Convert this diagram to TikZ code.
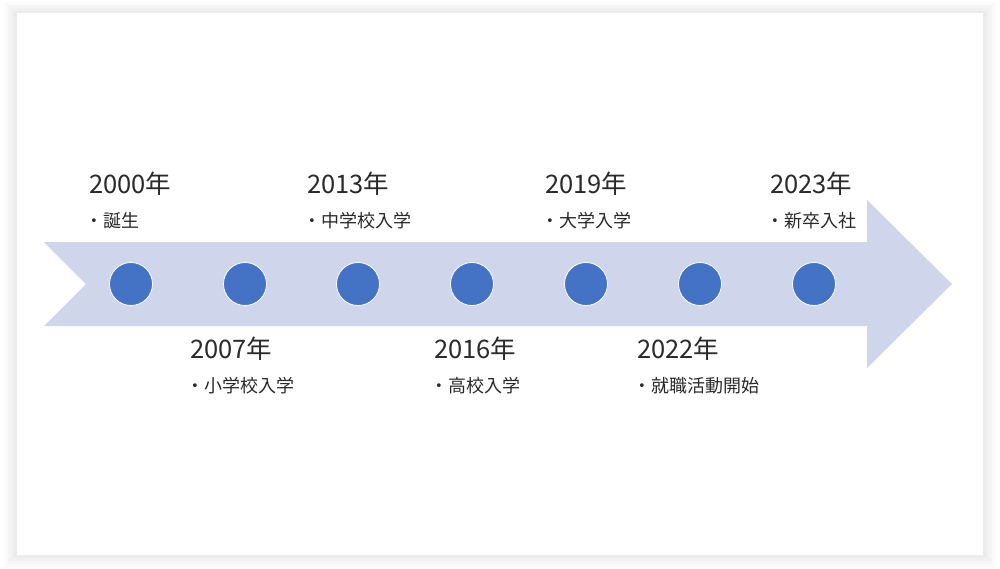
\documentclass[tikz,border=0pt]{standalone}
\usepackage{fontspec}
\setmainfont{Noto Sans CJK JP}
\newfontfamily\bulfont{DejaVu Sans}
\definecolor{arrowfill}{HTML}{CFD5EA}
\definecolor{dotfill}{HTML}{4472C4}
\definecolor{txt}{HTML}{2A2A2A}
\definecolor{shadowA}{HTML}{FAFAFA}
\definecolor{shadowB}{HTML}{F5F5F5}
\definecolor{shadowC}{HTML}{F0F0F0}
\definecolor{shadowD}{HTML}{EBEBEB}
\tikzset{
  dot/.style={circle, fill=dotfill, draw=white, line width=0.8pt, minimum size=43pt, inner sep=0pt},
  year/.style={anchor=base west, inner sep=0pt, font=\fontsize{25.5}{25.5}\selectfont, text=txt},
  item/.style={anchor=base west, inner sep=0pt, font=\fontsize{18}{18}\selectfont, text=txt},
}
\newcommand{\bul}{{\bulfont\fontsize{13}{13}\selectfont\raisebox{1.2pt}{•}}\hspace{6pt}}
\begin{document}
\begin{tikzpicture}[x=1pt,y=-1pt]
\useasboundingbox (0,0) rectangle (1000,568);
\fill[white] (0,0) rectangle (1000,568);
% shadow
\fill[shadowA] (5,2) rectangle (995,567);
\fill[shadowB] (8,5) rectangle (992,564);
\fill[shadowC] (11,8) rectangle (989,561);
\fill[shadowD] (14,11) rectangle (986,558);
\fill[white] (17,13) rectangle (983,555);
% arrow
\fill[arrowfill] (44,242) -- (867,242) -- (867,200) -- (952,284) -- (867,368) -- (867,326) -- (44,326) -- (86,284) -- cycle;
% dots
\node[dot] (d1) at (131,284) {};
\node[dot] (d2) at (245,284) {};
\node[dot] (d3) at (358,284) {};
\node[dot] (d4) at (472,284) {};
\node[dot] (d5) at (586,284) {};
\node[dot] (d6) at (700,284) {};
\node[dot] (d7) at (814,284) {};
% labels top
\node[year] (y1) at (89,193) {2000年};
\node[item] (i1) at (90,227) {\bul 誕生};
\node[year] (y3) at (307,193) {2013年};
\node[item] (i3) at (308,227) {\bul 中学校入学};
\node[year] (y5) at (545,193) {2019年};
\node[item] (i5) at (546,227) {\bul 大学入学};
\node[year] (y7) at (770,193) {2023年};
\node[item] (i7) at (771,227) {\bul 新卒入社};
% labels bottom
\node[year] (y2) at (190,358) {2007年};
\node[item] (i2) at (191,392) {\bul 小学校入学};
\node[year] (y4) at (434,358) {2016年};
\node[item] (i4) at (435,392) {\bul 高校入学};
\node[year] (y6) at (637,358) {2022年};
\node[item] (i6) at (638,392) {\bul 就職活動開始};
\end{tikzpicture}
\end{document}
